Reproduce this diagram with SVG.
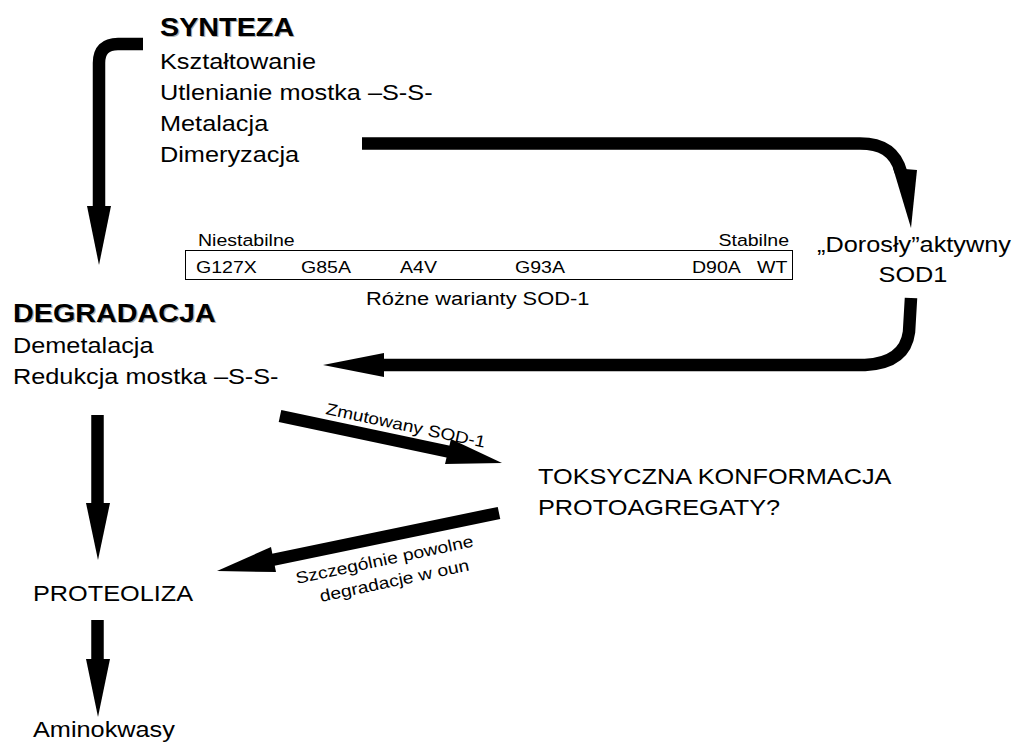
<svg xmlns="http://www.w3.org/2000/svg" width="1018" height="742" viewBox="0 0 1018 742">
<style>
.t{font-family:"Liberation Sans",Arial,Helvetica,sans-serif;fill:#000}
.b{font-weight:bold;font-size:25px}
.sh{fill:#b0b0b0}
.m{font-size:22px}
.s{font-size:17px}
.l{font-size:19px}
.lab{font-size:16.5px}
.shaft{fill:none;stroke:#000;stroke-width:12.5}
.head{fill:#000}
.box{fill:none;stroke:#000;stroke-width:1}
</style>
<rect width="1018" height="742" fill="#fff"/>
<g id="connectors">
  <path class="shaft" d="M143,44 H118 Q99,44 99,63 V208"/>
  <polygon class="head" points="87,206 111,206 99,265"/>
  <path class="shaft" d="M362,143.5 H860 C880,143.5 895,150 901,172"/>
  <polygon class="head" points="893,168 917,170 911,228"/>
  <path class="shaft" d="M911,298 L909,332 Q905,363 865,365 H381"/>
  <polygon class="head" points="384,353 384,377 323,365"/>
  <path class="shaft" d="M280,416 L450,452"/>
  <polygon class="head" points="451,439 445,464 502,463"/>
  <path class="shaft" d="M499,513 L272,560"/>
  <polygon class="head" points="271,547 276,572 217,571"/>
  <path class="shaft" d="M97.5,415 V505"/>
  <polygon class="head" points="86,503 110,503 98,560"/>
  <path class="shaft" d="M97.5,620 V661"/>
  <polygon class="head" points="86,659 110,659 98,717"/>
</g>
<g id="synteza">
  <text class="t b sh" transform="translate(161.2,37.2) scale(1.15,1)">SYNTEZA</text>
  <text class="t b" transform="translate(160,36) scale(1.15,1)">SYNTEZA</text>
  <text class="t m" transform="translate(160,69) scale(1.15,1)">Kształtowanie</text>
  <text class="t m" transform="translate(160,100) scale(1.15,1)">Utlenianie mostka –S-S-</text>
  <text class="t m" transform="translate(160,131) scale(1.15,1)">Metalacja</text>
  <text class="t m" transform="translate(160,162) scale(1.15,1)">Dimeryzacja</text>
</g>
<g id="dorosly">
  <text class="t m" text-anchor="middle" transform="translate(914,252) scale(1.15,1)">„Dorosły”aktywny</text>
  <text class="t m" text-anchor="middle" transform="translate(913,282) scale(1.15,1)">SOD1</text>
</g>
<g id="warianty">
  <text class="t s" transform="translate(198,246) scale(1.15,1)">Niestabilne</text>
  <text class="t s" text-anchor="end" transform="translate(789,246) scale(1.15,1)">Stabilne</text>
  <rect class="box" x="185.5" y="250.5" width="607" height="29"/>
  <text class="t s" transform="translate(196,273) scale(1.15,1)">G127X</text>
  <text class="t s" transform="translate(301,273) scale(1.15,1)">G85A</text>
  <text class="t s" transform="translate(400,273) scale(1.15,1)">A4V</text>
  <text class="t s" transform="translate(515,273) scale(1.15,1)">G93A</text>
  <text class="t s" transform="translate(692,273) scale(1.15,1)">D90A</text>
  <text class="t s" transform="translate(757,273) scale(1.15,1)">WT</text>
  <text class="t l" transform="translate(366,305) scale(1.15,1)">Różne warianty SOD-1</text>
</g>
<g id="degradacja">
  <text class="t b sh" transform="translate(14.2,323.2) scale(1.15,1)">DEGRADACJA</text>
  <text class="t b" transform="translate(13,322) scale(1.15,1)">DEGRADACJA</text>
  <text class="t m" transform="translate(13,353) scale(1.15,1)">Demetalacja</text>
  <text class="t m" transform="translate(13,384) scale(1.15,1)">Redukcja mostka –S-S-</text>
</g>
<g id="toksyczna">
  <text class="t m" transform="translate(538,484) scale(1.15,1)">TOKSYCZNA KONFORMACJA</text>
  <text class="t m" transform="translate(538,515) scale(1.15,1)">PROTOAGREGATY?</text>
</g>
<g id="proteoliza">
  <text class="t m" transform="translate(33,601) scale(1.15,1)">PROTEOLIZA</text>
</g>
<g id="aminokwasy">
  <text class="t m" transform="translate(33,737) scale(1.15,1)">Aminokwasy</text>
</g>
<g id="labels">
  <text class="t lab" transform="translate(325,414) rotate(12) scale(1.16,1)">Zmutowany SOD-1</text>
  <text class="t lab" transform="translate(297,584) rotate(-12) scale(1.17,1)">Szczególnie powolne</text>
  <text class="t lab" transform="translate(321,602) rotate(-12) scale(1.17,1)">degradacje w oun</text>
</g>
</svg>
